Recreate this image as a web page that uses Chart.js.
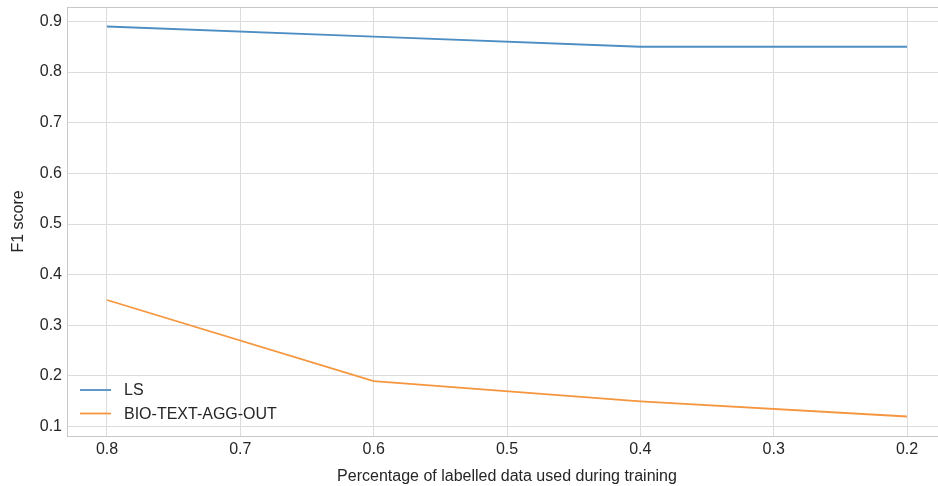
<!DOCTYPE html>
<html lang="en">
<head>
    <meta charset="UTF-8">
    <title>F1 score vs labelled data</title>
    <style>
        html, body { margin: 0; padding: 0; background: #fff; overflow: hidden; }
        #wrap { width: 938px; height: 486px; overflow: hidden; }
        #box { width: 960px; height: 486px; position: relative; }
    </style>
    <script src="https://cdn.jsdelivr.net/npm/chart.js"></script>
</head>
<body>
<div id="wrap"><div id="box"><canvas id="chart"></canvas></div></div>
<script>
    // data
    const fractions = [0.8, 0.6, 0.4, 0.2];
    const lsScores = [0.89, 0.87, 0.85, 0.85];
    const bioScores = [0.35, 0.19, 0.15, 0.12];
    const xTicks = [0.2, 0.3, 0.4, 0.5, 0.6, 0.7, 0.8];
    const yTicks = [0.1, 0.2, 0.3, 0.4, 0.5, 0.6, 0.7, 0.8, 0.9];

    const FONT = '"Liberation Sans", Arial, sans-serif';
    const TEXT = '#262626';
    const GRID = '#dcdcdc';

    const toPoints = ys => fractions.map((x, i) => ({ x: x, y: ys[i] }));

    // frame round the plot area + legend in the lower left corner
    const framePlugin = {
        id: 'frame',
        afterDraw(chart) {
            const { ctx, chartArea: a } = chart;
            ctx.save();
            ctx.strokeStyle = '#c8c8c8';
            ctx.lineWidth = 1;
            ctx.strokeRect(a.left + 0.5, a.top + 0.5, a.right - a.left, a.bottom - a.top);

            ctx.font = '16px ' + FONT;
            ctx.textBaseline = 'middle';
            chart.data.datasets.forEach((ds, i) => {
                const y = 390 + i * 23.5;
                ctx.strokeStyle = ds.borderColor;
                ctx.lineWidth = 1.8;
                ctx.beginPath();
                ctx.moveTo(80, y);
                ctx.lineTo(111, y);
                ctx.stroke();
                ctx.fillStyle = TEXT;
                ctx.fillText(ds.label, 124, y + 1);
            });
            ctx.restore();
        }
    };

    new Chart(document.getElementById('chart'), {
        type: 'line',
        data: {
            datasets: [
                { label: 'LS', data: toPoints(lsScores), borderColor: 'rgb(76,142,195)' },
                { label: 'BIO-TEXT-AGG-OUT', data: toPoints(bioScores), borderColor: 'rgb(245,150,62)' }
            ]
        },
        options: {
            responsive: true,
            maintainAspectRatio: false,
            animation: false,
            layout: { padding: { top: 7, right: 13, left: 0, bottom: 0 } },
            elements: {
                line: { borderWidth: 1.8, tension: 0, fill: false },
                point: { radius: 0 }
            },
            plugins: { legend: { display: false }, tooltip: { enabled: false } },
            scales: {
                x: {
                    type: 'linear',
                    reverse: true,
                    min: 0.17,
                    max: 0.83,
                    afterBuildTicks: s => { s.ticks = xTicks.map(v => ({ value: v })); },
                    afterFit: s => { s.height = 50; s.paddingLeft = 0; s.paddingRight = 0; },
                    grid: { color: GRID, drawTicks: false },
                    border: { display: false },
                    ticks: { color: TEXT, padding: 4, font: { family: FONT, size: 16 },
                             callback: v => v.toFixed(1) },
                    title: { display: true, text: 'Percentage of labelled data used during training',
                             color: TEXT, font: { family: FONT, size: 16 }, padding: { top: 0, bottom: 0 } }
                },
                y: {
                    min: 0.0815,
                    max: 0.9285,
                    afterBuildTicks: s => { s.ticks = yTicks.map(v => ({ value: v })); },
                    afterFit: s => { s.width = 67; s.paddingTop = 0; s.paddingBottom = 0; },
                    grid: { color: GRID, drawTicks: false },
                    border: { display: false },
                    ticks: { color: TEXT, padding: 5, font: { family: FONT, size: 16 },
                             callback: v => v.toFixed(1) },
                    title: { display: true, text: 'F1 score', color: TEXT,
                             font: { family: FONT, size: 16 }, padding: { top: 9, bottom: 0 } }
                }
            }
        },
        plugins: [framePlugin]
    });
</script>
</body>
</html>
